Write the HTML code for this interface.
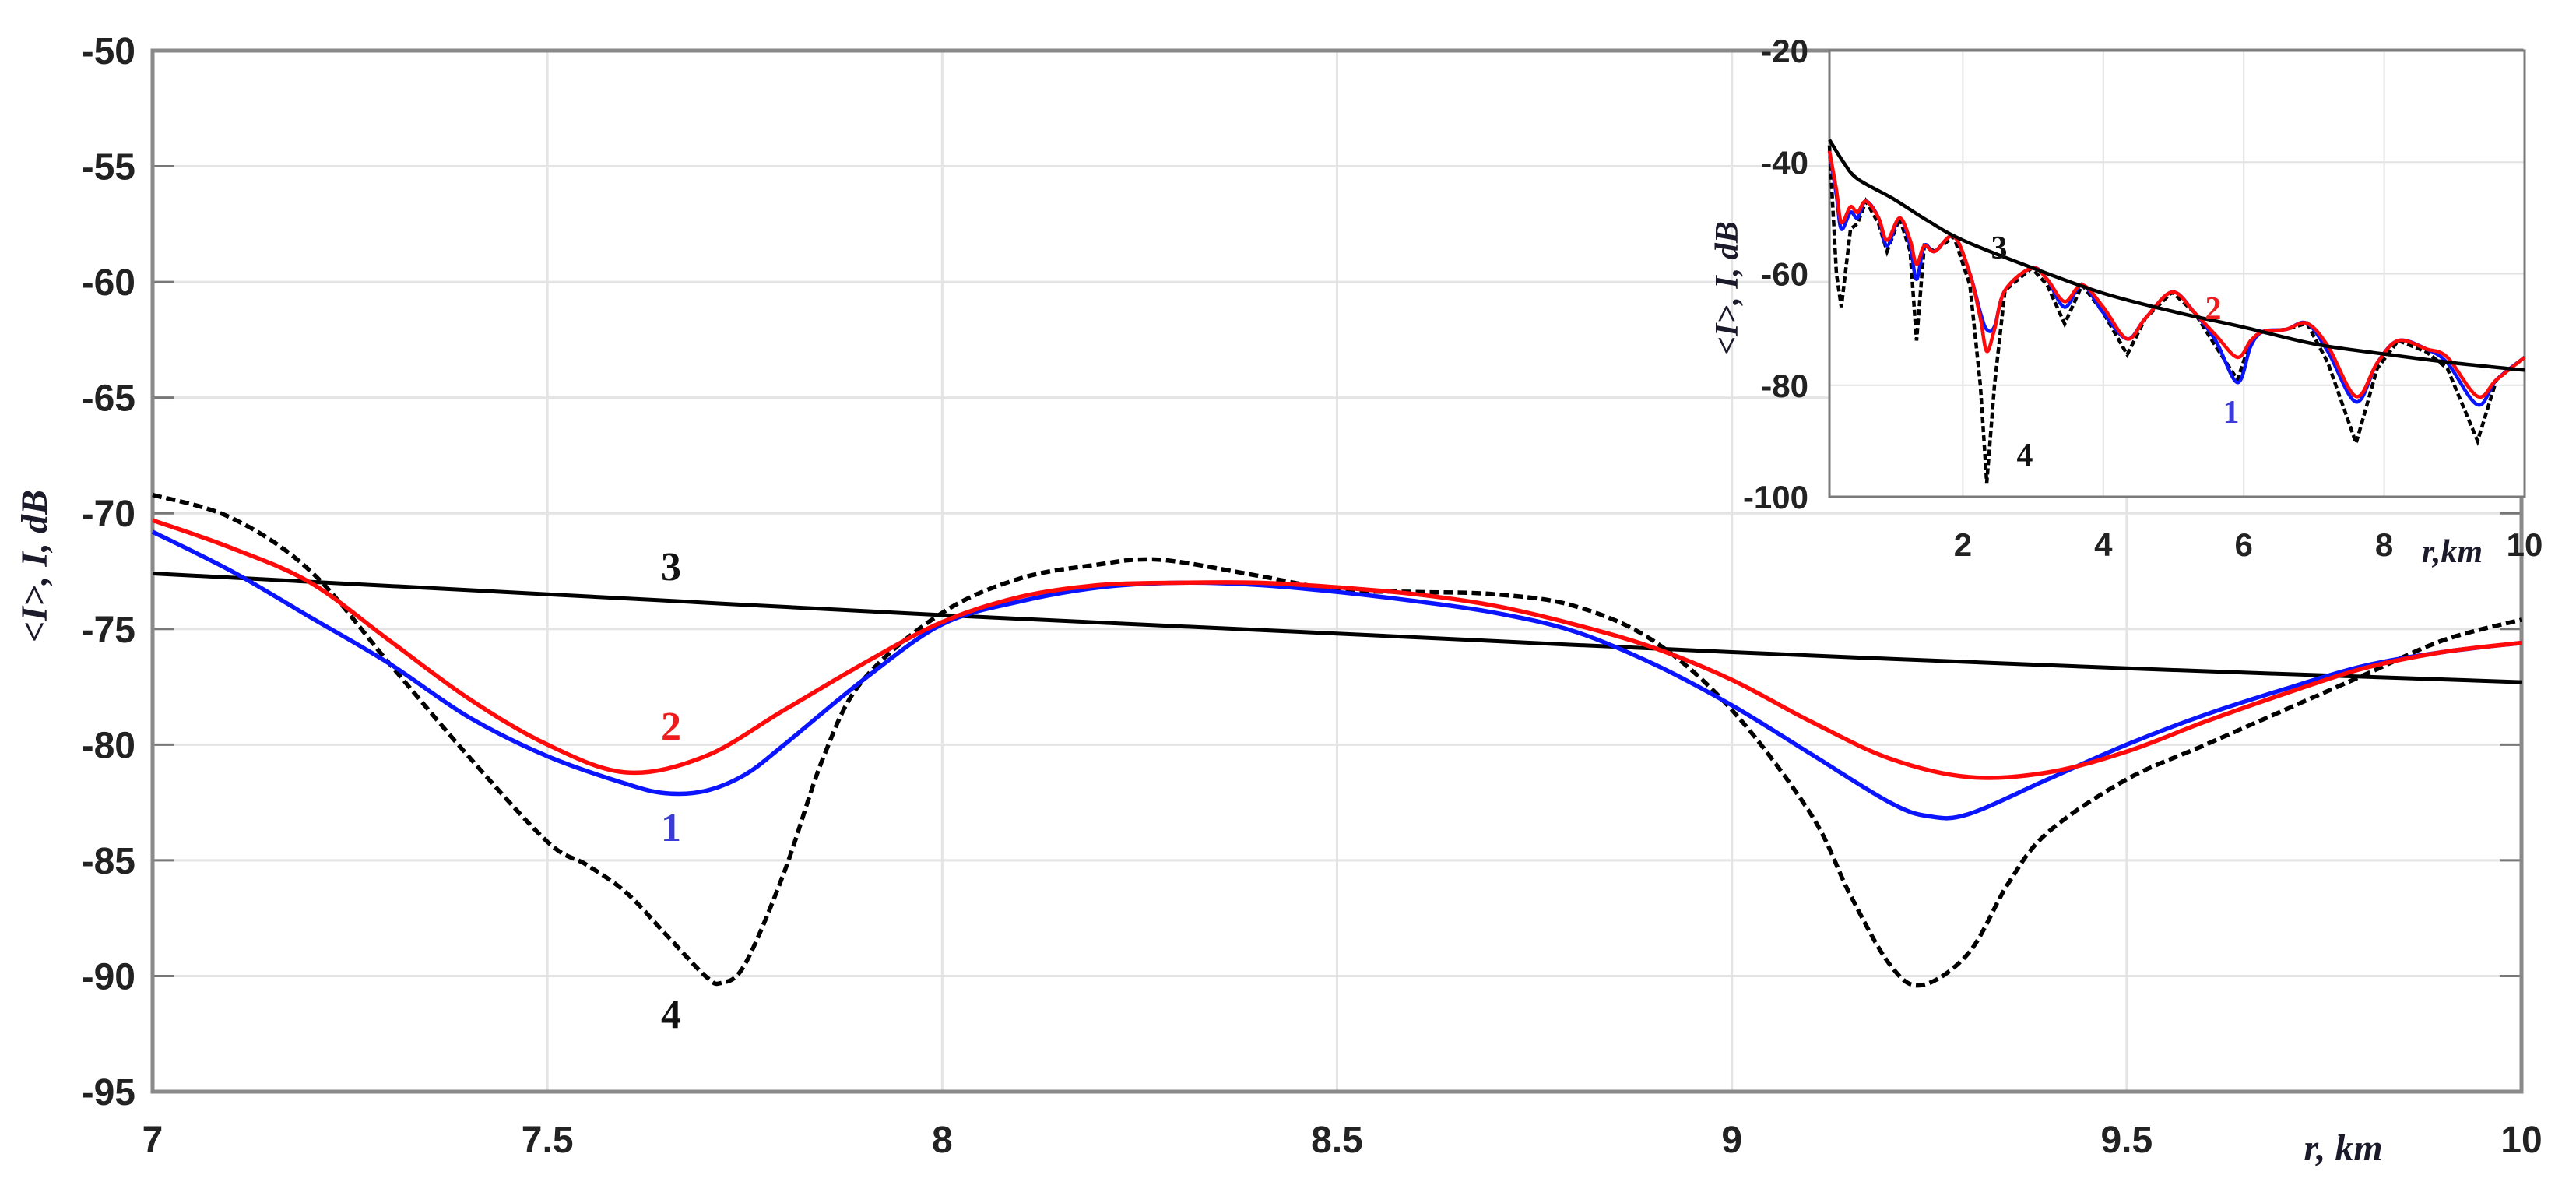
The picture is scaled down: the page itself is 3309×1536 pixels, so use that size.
<!DOCTYPE html>
<html><head><meta charset="utf-8"><style>
html,body{margin:0;padding:0;background:#fff;}
svg{display:block;}
.tk{font-family:"Liberation Sans",Arial,sans-serif;font-weight:bold;fill:#222;}
.lb{font-family:"Liberation Serif",serif;font-weight:bold;}
</style></head><body>
<svg id="chart" width="3309" height="1536" viewBox="0 0 3309 1536" xmlns="http://www.w3.org/2000/svg">
<rect width="3309" height="1536" fill="#fff"/>
<g id="main"></g>
<g id="inset"></g>
</svg>
<script>
// ---------- main chart data ----------
const mainXTicks = [7, 7.5, 8, 8.5, 9, 9.5, 10];
const mainXTickLabels = ["7", "7.5", "8", "8.5", "9", "9.5", "10"];
const mainYTicks = [-50, -55, -60, -65, -70, -75, -80, -85, -90, -95];
const mainYTickLabels = ["-50", "-55", "-60", "-65", "-70", "-75", "-80", "-85", "-90", "-95"];
const s3x = [7, 7.5, 8, 8.5, 9, 9.5, 10];
const s3y = [-72.6, -73.5, -74.4, -75.2, -76.0, -76.7, -77.3];
const s1x = [7, 7.1, 7.2, 7.3, 7.4, 7.5, 7.6, 7.65, 7.7, 7.75, 7.8, 7.9, 8.0, 8.1, 8.2, 8.3, 8.4, 8.5, 8.6, 8.7, 8.8, 8.9, 9.0, 9.1, 9.2, 9.25, 9.3, 9.4, 9.5, 9.6, 9.7, 9.8, 9.9, 10];
const s1y = [-70.8, -72.5, -74.5, -76.5, -78.8, -80.5, -81.7, -82.1, -82.0, -81.3, -80.0, -77.2, -74.8, -73.8, -73.2, -73.0, -73.1, -73.4, -73.8, -74.3, -75.1, -76.5, -78.3, -80.4, -82.5, -83.1, -83.0, -81.5, -80.0, -78.7, -77.6, -76.6, -76.0, -75.6];
const s2x = [7, 7.1, 7.2, 7.3, 7.4, 7.5, 7.6, 7.7, 7.8, 7.9, 8.0, 8.1, 8.2, 8.3, 8.4, 8.5, 8.6, 8.7, 8.8, 8.9, 9.0, 9.1, 9.2, 9.3, 9.4, 9.5, 9.6, 9.7, 9.8, 9.9, 10];
const s2y = [-70.3, -71.5, -73.0, -75.5, -78.0, -80.0, -81.2, -80.5, -78.5, -76.5, -74.7, -73.6, -73.1, -73.0, -73.0, -73.2, -73.5, -74.0, -74.8, -75.8, -77.2, -79.0, -80.6, -81.4, -81.2, -80.3, -79.0, -77.8, -76.7, -76.0, -75.6];
const s4x = [7, 7.1, 7.2, 7.3, 7.4, 7.5, 7.55, 7.6, 7.65, 7.7, 7.72, 7.75, 7.8, 7.85, 7.9, 8.0, 8.1, 8.2, 8.25, 8.3, 8.4, 8.5, 8.6, 8.7, 8.8, 8.9, 9.0, 9.1, 9.15, 9.2, 9.24, 9.3, 9.35, 9.4, 9.5, 9.6, 9.7, 9.8, 9.9, 10];
const s4y = [-69.2, -70.2, -72.5, -76.5, -80.5, -84.2, -85.2, -86.4, -88.2, -90.0, -90.3, -89.5, -85.5, -80.5, -77.2, -74.3, -72.8, -72.2, -72.0, -72.1, -72.7, -73.3, -73.4, -73.5, -74.0, -75.5, -78.5, -83.0, -86.5, -89.5, -90.4, -89.0, -86.0, -83.8, -81.5, -80.0, -78.5, -77.0, -75.5, -74.6];

// ---------- inset data ----------
const inXTicks = [2, 4, 6, 8, 10];
const inXTickLabels = ["2", "4", "6", "8", "10"];
const inYTicks = [-20, -40, -60, -80, -100];
const inYTickLabels = ["-20", "-40", "-60", "-80", "-100"];
const in3x = [0.1, 0.3, 0.5, 1, 1.5, 2, 3, 4, 5, 6, 7, 8, 9, 10];
const in3y = [-36, -40, -43, -46.5, -50.5, -54, -59, -63.5, -66.8, -69.6, -72.6, -74.4, -76, -77.3];
const inX = [0.1, 0.2, 0.27, 0.4, 0.5, 0.62, 0.8, 0.92, 1.1, 1.25, 1.34, 1.45, 1.6, 1.87, 2.1, 2.25, 2.34, 2.45, 2.6, 2.98, 3.2, 3.45, 3.7, 4.0, 4.34, 4.6, 4.98, 5.3, 5.6, 5.91, 6.1, 6.27, 6.6, 6.9, 7.2, 7.6, 7.9, 8.2, 8.6, 8.9, 9.33, 9.6, 10];
const in2y = [-38, -45, -50.8, -48, -49, -47, -50, -54, -50, -54, -58.3, -55, -56, -53.3, -60, -68, -73.9, -70, -63, -59, -61, -65, -62, -66, -71.7, -68, -63.3, -67, -71, -75, -72, -70.4, -70, -68.9, -73, -82, -76, -72, -73.5, -75, -82, -79, -75];
const in1y = [-38, -46, -52, -49, -50, -47, -50, -55, -50, -55, -61, -55, -56, -53.3, -60, -67, -70, -69.5, -63, -59, -61, -66, -62, -67, -71.7, -68, -63.3, -67, -72, -79.5, -73, -70.4, -70, -68.9, -74, -83, -76, -72, -73.5, -76, -83.5, -79, -75];
const in4y = [-37, -60, -66, -52, -51, -47, -51, -56, -50, -56, -72, -55, -56, -53.3, -62, -80, -97.5, -80, -63, -59, -62, -69, -62, -67, -74.5, -68, -63.3, -67, -73, -79, -72, -70.4, -70, -68.9, -76, -90.4, -77, -72, -74, -77, -90, -79, -75];

const NS = "http://www.w3.org/2000/svg";
function mk(tag, attrs, parent) {
  const e = document.createElementNS(NS, tag);
  for (const k in attrs) e.setAttribute(k, attrs[k]);
  parent.appendChild(e);
  return e;
}
function pathOf(xs, ys, fx, fy) {
  return xs.map((x, i) => (i ? "L" : "M") + fx(x).toFixed(1) + "," + fy(ys[i]).toFixed(1)).join(" ");
}
function smoothOf(xs, ys, fx, fy) {
  const P = xs.map((x, i) => [fx(x), fy(ys[i])]);
  let d = "M" + P[0][0].toFixed(1) + "," + P[0][1].toFixed(1);
  for (let i = 0; i < P.length - 1; i++) {
    const p0 = P[i - 1] || P[i], p1 = P[i], p2 = P[i + 1], p3 = P[i + 2] || P[i + 1];
    const c1 = [p1[0] + (p2[0] - p0[0]) / 6, p1[1] + (p2[1] - p0[1]) / 6];
    const c2 = [p2[0] - (p3[0] - p1[0]) / 6, p2[1] - (p3[1] - p1[1]) / 6];
    d += " C" + c1[0].toFixed(1) + "," + c1[1].toFixed(1) + " " + c2[0].toFixed(1) + "," + c2[1].toFixed(1) + " " + p2[0].toFixed(1) + "," + p2[1].toFixed(1);
  }
  return d;
}

// ===== main =====
const M = document.getElementById("main");


const mL = 196, mR = 3239, mT = 65, mB = 1402;
const mx = x => mL + (x - 7) / 3 * (mR - mL);
const my = y => mT + (-50 - y) / 45 * (mB - mT);

mainXTicks.forEach((t, i) => {
  if (i > 0 && i < mainXTicks.length - 1) {
    const g = mk("line", {x1: mx(t), x2: mx(t), y1: mT, y2: mB, stroke: "#e4e4e4", "stroke-width": 3}, M);
    
    
  }
  const tl = mk("text", {x: mx(t), y: 1480, "text-anchor": "middle", class: "tk", "font-size": 48}, M);
  tl.textContent = mainXTickLabels[i];
  
  
});
mainYTicks.forEach((t, i) => {
  if (i > 0 && i < mainYTicks.length - 1) {
    const g = mk("line", {x1: mL, x2: mR, y1: my(t), y2: my(t), stroke: "#e4e4e4", "stroke-width": 3}, M);
    
    
    mk("line", {x1: mL, x2: mL + 28, y1: my(t), y2: my(t), stroke: "#777", "stroke-width": 3}, M);
    mk("line", {x1: mR - 28, x2: mR, y1: my(t), y2: my(t), stroke: "#777", "stroke-width": 3}, M);
  }
  const tl = mk("text", {x: 174, y: my(t) + 17, "text-anchor": "end", class: "tk", "font-size": 48}, M);
  tl.textContent = mainYTickLabels[i];
  
  
});
const fr = mk("rect", {x: mL, y: mT, width: mR - mL, height: mB - mT, fill: "none", stroke: "#8a8a8a", "stroke-width": 5}, M);



const p3 = mk("path", {d: smoothOf(s3x, s3y, mx, my), fill: "none", stroke: "#000", "stroke-width": 5}, M);


const p4 = mk("path", {d: smoothOf(s4x, s4y, mx, my), fill: "none", stroke: "#000", "stroke-width": 5.5, "stroke-dasharray": "12 6", "stroke-linejoin": "round"}, M);


const p1 = mk("path", {d: smoothOf(s1x, s1y, mx, my), fill: "none", stroke: "#0a14ff", "stroke-width": 5.5, "stroke-linejoin": "round"}, M);


const p2 = mk("path", {d: smoothOf(s2x, s2y, mx, my), fill: "none", stroke: "#ff0a0a", "stroke-width": 5.5, "stroke-linejoin": "round"}, M);



[["3", 862, 745, "#111", "label-curve-3"], ["2", 862, 950, "#ee1c1c", "label-curve-2"], ["1", 862, 1080, "#3b3bd8", "label-curve-1"], ["4", 862, 1320, "#111", "label-curve-4"]].forEach(a => {
  const t = mk("text", {x: a[1], y: a[2], "text-anchor": "middle", class: "lb", "font-size": 52, fill: a[3]}, M);
  t.textContent = a[0];
  
  
});
const xt = mk("text", {x: 3010, y: 1490, "text-anchor": "middle", class: "lb", "font-size": 48, "font-style": "italic", fill: "#1a1a2a"}, M);
xt.textContent = "r, km";


const yt = mk("text", {x: 0, y: 0, "text-anchor": "middle", class: "lb", "font-size": 48, "font-style": "italic", fill: "#1a1a2a", transform: "translate(60,727) rotate(-90)"}, M);
yt.textContent = "<I>, I, dB";



// ===== inset =====
const I = document.getElementById("inset");


const iL = 2350, iR = 3243, iT = 65, iB = 638;
const ix = x => iL + (x - 0.1) / 9.9 * (iR - iL);
const iy = y => iT + (-20 - y) / 80 * (iB - iT);
mk("rect", {x: iL, y: iT, width: iR - iL, height: iB - iT, fill: "#fff"}, I);
inXTicks.forEach((t, i) => {
  if (i < inXTicks.length - 1) {
    const g = mk("line", {x1: ix(t), x2: ix(t), y1: iT, y2: iB, stroke: "#e2e2e2", "stroke-width": 2}, I);
    
    
  }
  const tl = mk("text", {x: ix(t), y: 714, "text-anchor": "middle", class: "tk", "font-size": 42}, I);
  tl.textContent = inXTickLabels[i];
  
  
});
inYTicks.forEach((t, i) => {
  if (i > 0 && i < inYTicks.length - 1) {
    const g = mk("line", {x1: iL, x2: iR, y1: iy(t), y2: iy(t), stroke: "#e2e2e2", "stroke-width": 2}, I);
    
    
  }
  const tl = mk("text", {x: 2323, y: iy(t) + 15, "text-anchor": "end", class: "tk", "font-size": 42}, I);
  tl.textContent = inYTickLabels[i];
  
  
});
const ifr = mk("rect", {x: iL, y: iT, width: iR - iL, height: iB - iT, fill: "none", stroke: "#7a7a7a", "stroke-width": 3}, I);



const q4 = mk("path", {d: pathOf(inX, in4y, ix, iy), fill: "none", stroke: "#000", "stroke-width": 4.5, "stroke-dasharray": "8 4"}, I);


const q1 = mk("path", {d: smoothOf(inX, in1y, ix, iy), fill: "none", stroke: "#0a14ff", "stroke-width": 4.5}, I);


const q2 = mk("path", {d: smoothOf(inX, in2y, ix, iy), fill: "none", stroke: "#ff0a0a", "stroke-width": 4.5}, I);


const q3 = mk("path", {d: smoothOf(in3x, in3y, ix, iy), fill: "none", stroke: "#000", "stroke-width": 4.5}, I);



[["3", 2568, 332, "#111", "inset-label-curve-3"], ["2", 2843, 410, "#ee1c1c", "inset-label-curve-2"], ["1", 2866, 543, "#3b3bd8", "inset-label-curve-1"], ["4", 2601, 598, "#111", "inset-label-curve-4"]].forEach(a => {
  const t = mk("text", {x: a[1], y: a[2], "text-anchor": "middle", class: "lb", "font-size": 42, fill: a[3]}, I);
  t.textContent = a[0];
  
  
});
const ixt = mk("text", {x: 3150, y: 722, "text-anchor": "middle", class: "lb", "font-size": 42, "font-style": "italic", fill: "#1a1a2a"}, I);
ixt.textContent = "r,km";


const iyt = mk("text", {x: 0, y: 0, "text-anchor": "middle", class: "lb", "font-size": 42, "font-style": "italic", fill: "#1a1a2a", transform: "translate(2232,370) rotate(-90)"}, I);
iyt.textContent = "<I>, I, dB";


</script>
</body></html>
